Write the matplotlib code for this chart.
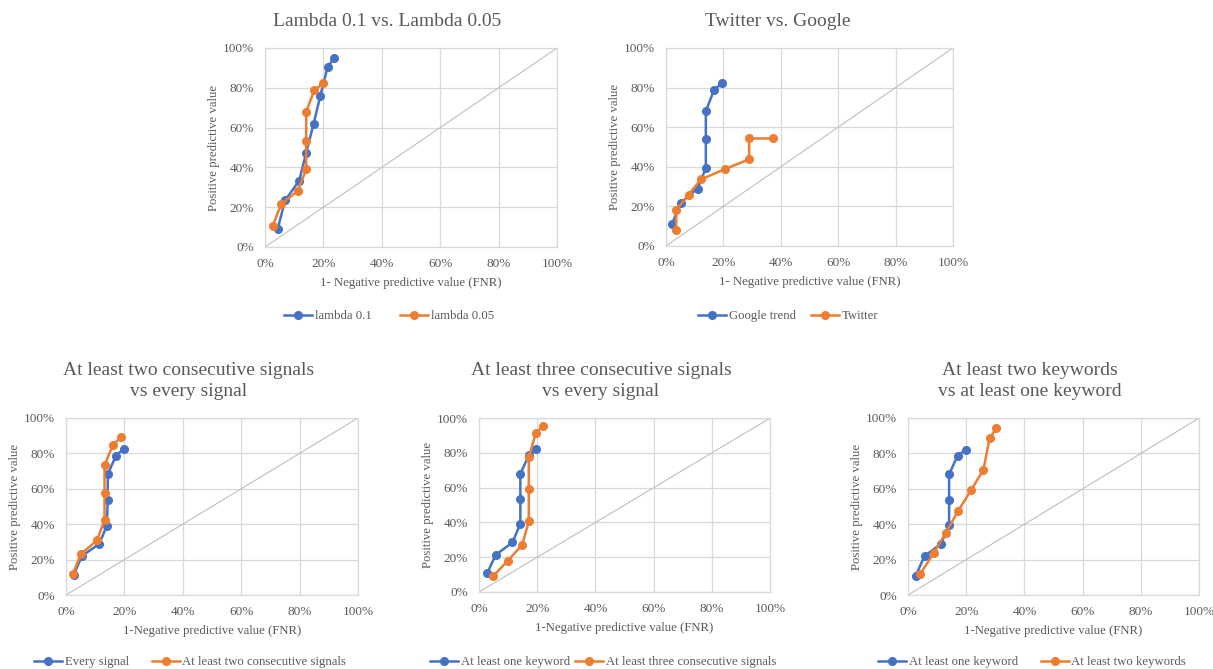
import matplotlib
matplotlib.use('Agg')
import matplotlib.pyplot as plt

# data (percent)
lam01_x = [4.3, 6.9, 11.7, 14.1, 16.6, 18.9, 21.4, 23.7]
lam01_y = [9.0, 23.5, 33.3, 47.4, 61.7, 75.8, 90.3, 95.1]
lam005_x = [2.6, 5.5, 11.2, 14.1, 14.1, 14.1, 16.9, 19.8]
lam005_y = [10.4, 21.5, 28.2, 39.0, 53.4, 67.9, 78.8, 82.2]

google_x = [2.1, 5.2, 11.0, 13.9, 13.9, 13.9, 16.8, 19.7]
google_y = [11.1, 21.9, 29.0, 39.3, 54.0, 68.1, 78.9, 82.3]
twitter_x = [3.6, 3.6, 7.9, 12.2, 20.5, 29.0, 29.0, 37.4]
twitter_y = [8.1, 18.2, 26.0, 33.6, 38.8, 43.8, 54.3, 54.3]

every_x = [2.6, 5.5, 11.4, 14.0, 14.3, 14.3, 17.1, 19.7]
every_y = [11.3, 22.1, 28.9, 39.2, 53.8, 68.1, 78.7, 82.5]
two_cons_x = [2.4, 5.1, 10.6, 13.2, 13.2, 13.2, 16.1, 18.8]
two_cons_y = [11.9, 23.2, 30.8, 42.5, 57.9, 73.2, 84.9, 89.1]

one_kw_x = [2.8, 5.7, 11.5, 14.2, 14.2, 14.2, 17.1, 19.7]
one_kw_y = [10.7, 21.3, 28.5, 39.3, 53.4, 68.0, 78.5, 82.2]
three_cons_x = [4.8, 9.9, 14.8, 17.1, 17.1, 17.1, 19.5, 22.0]
three_cons_y = [9.0, 18.0, 27.0, 40.6, 59.2, 77.6, 91.2, 95.6]

one_kw5_x = [2.6, 5.7, 11.3, 14.1, 14.1, 14.1, 17.0, 19.9]
one_kw5_y = [10.8, 22.1, 28.9, 39.4, 53.8, 68.1, 78.7, 82.1]
two_kw_x = [4.2, 8.8, 13.0, 17.1, 21.6, 25.9, 28.0, 30.3]
two_kw_y = [11.9, 23.6, 35.3, 47.2, 59.1, 70.8, 88.5, 94.2]

ticks = [0, 20, 40, 60, 80, 100]
tick_labels = ['0%', '20%', '40%', '60%', '80%', '100%']

BLUE = '#4472C4'
ORANGE = '#ED7D31'
GRAY = '#595959'
GRID = '#D9D9D9'

plt.rcParams['font.family'] = ['Liberation Serif', 'DejaVu Serif']

fig = plt.figure(figsize=(12.13, 6.69), dpi=100)


def panel(rect, xs1, ys1, lab1, xs2, ys2, lab2, xlabel, legend_xy, legend_gap):
    ax = fig.add_axes(rect)
    ax.plot([0, 100], [0, 100], color='#BFBFBF', lw=0.8, zorder=1)
    ax.plot(xs1, ys1, color=BLUE, lw=1.8, marker='o', ms=5.5, label=lab1, zorder=3)
    ax.plot(xs2, ys2, color=ORANGE, lw=1.8, marker='o', ms=5.5, label=lab2, zorder=3)
    ax.set_xlim(0, 100)
    ax.set_ylim(0, 100)
    ax.set_xticks(ticks)
    ax.set_yticks(ticks)
    ax.set_xticklabels(tick_labels)
    ax.set_yticklabels(tick_labels)
    ax.tick_params(length=0, labelsize=9.5, labelcolor=GRAY, pad=8)
    ax.grid(True, color=GRID, lw=0.9)
    ax.set_axisbelow(True)
    for s in ax.spines.values():
        s.set_color(GRID)
        s.set_linewidth(0.9)
    ax.set_xlabel(xlabel, fontsize=9.2, color=GRAY, labelpad=5)
    ax.set_ylabel('Positive predictive value', fontsize=9.2, color=GRAY, labelpad=2)
    ax.legend(loc='center', bbox_to_anchor=legend_xy, bbox_transform=fig.transFigure,
              ncol=2, frameon=False, fontsize=9.2, labelcolor=GRAY,
              handlelength=2.2, handletextpad=0.2, columnspacing=legend_gap)
    return ax


panel([0.2185, 0.6308, 0.2407, 0.2975], lam01_x, lam01_y, 'lambda 0.1',
      lam005_x, lam005_y, 'lambda 0.05',
      '1- Negative predictive value (FNR)', (389 / 1213, 1 - 316 / 669), 2.2)
panel([0.549, 0.6323, 0.2366, 0.296], google_x, google_y, 'Google trend',
      twitter_x, twitter_y, 'Twitter',
      '1- Negative predictive value (FNR)', (788 / 1213, 1 - 316 / 669), 1.2)
panel([0.0544, 0.1106, 0.2407, 0.2646], every_x, every_y, 'Every signal',
      two_cons_x, two_cons_y, 'At least two consecutive signals',
      '1-Negative predictive value (FNR)', (190 / 1213, 1 - 662 / 669), 1.8)
panel([0.3949, 0.1151, 0.24, 0.26], one_kw_x, one_kw_y, 'At least one keyword',
      three_cons_x, three_cons_y, 'At least three consecutive signals',
      '1-Negative predictive value (FNR)', (603 / 1213, 1 - 662 / 669), 0.4)
panel([0.7486, 0.1106, 0.24, 0.2646], one_kw5_x, one_kw5_y, 'At least one keyword',
      two_kw_x, two_kw_y, 'At least two keywords',
      '1-Negative predictive value (FNR)', (1032 / 1213, 1 - 662 / 669), 1.8)

# chart titles
title_kw = dict(fontsize=14, color=GRAY, ha='center', va='center', linespacing=1.3)
fig.text(387 / 1213, 1 - 21 / 669, 'Lambda 0.1 vs. Lambda 0.05', **title_kw)
fig.text(778 / 1213, 1 - 21 / 669, 'Twitter vs. Google', **title_kw)
fig.text(189 / 1213, 1 - 381 / 669, 'At least two consecutive signals\nvs every signal', **title_kw)
fig.text(601 / 1213, 1 - 381 / 669, 'At least three consecutive signals\nvs every signal', **title_kw)
fig.text(1030 / 1213, 1 - 381 / 669, 'At least two keywords\nvs at least one keyword', **title_kw)

fig.savefig('out.png', dpi=100)
